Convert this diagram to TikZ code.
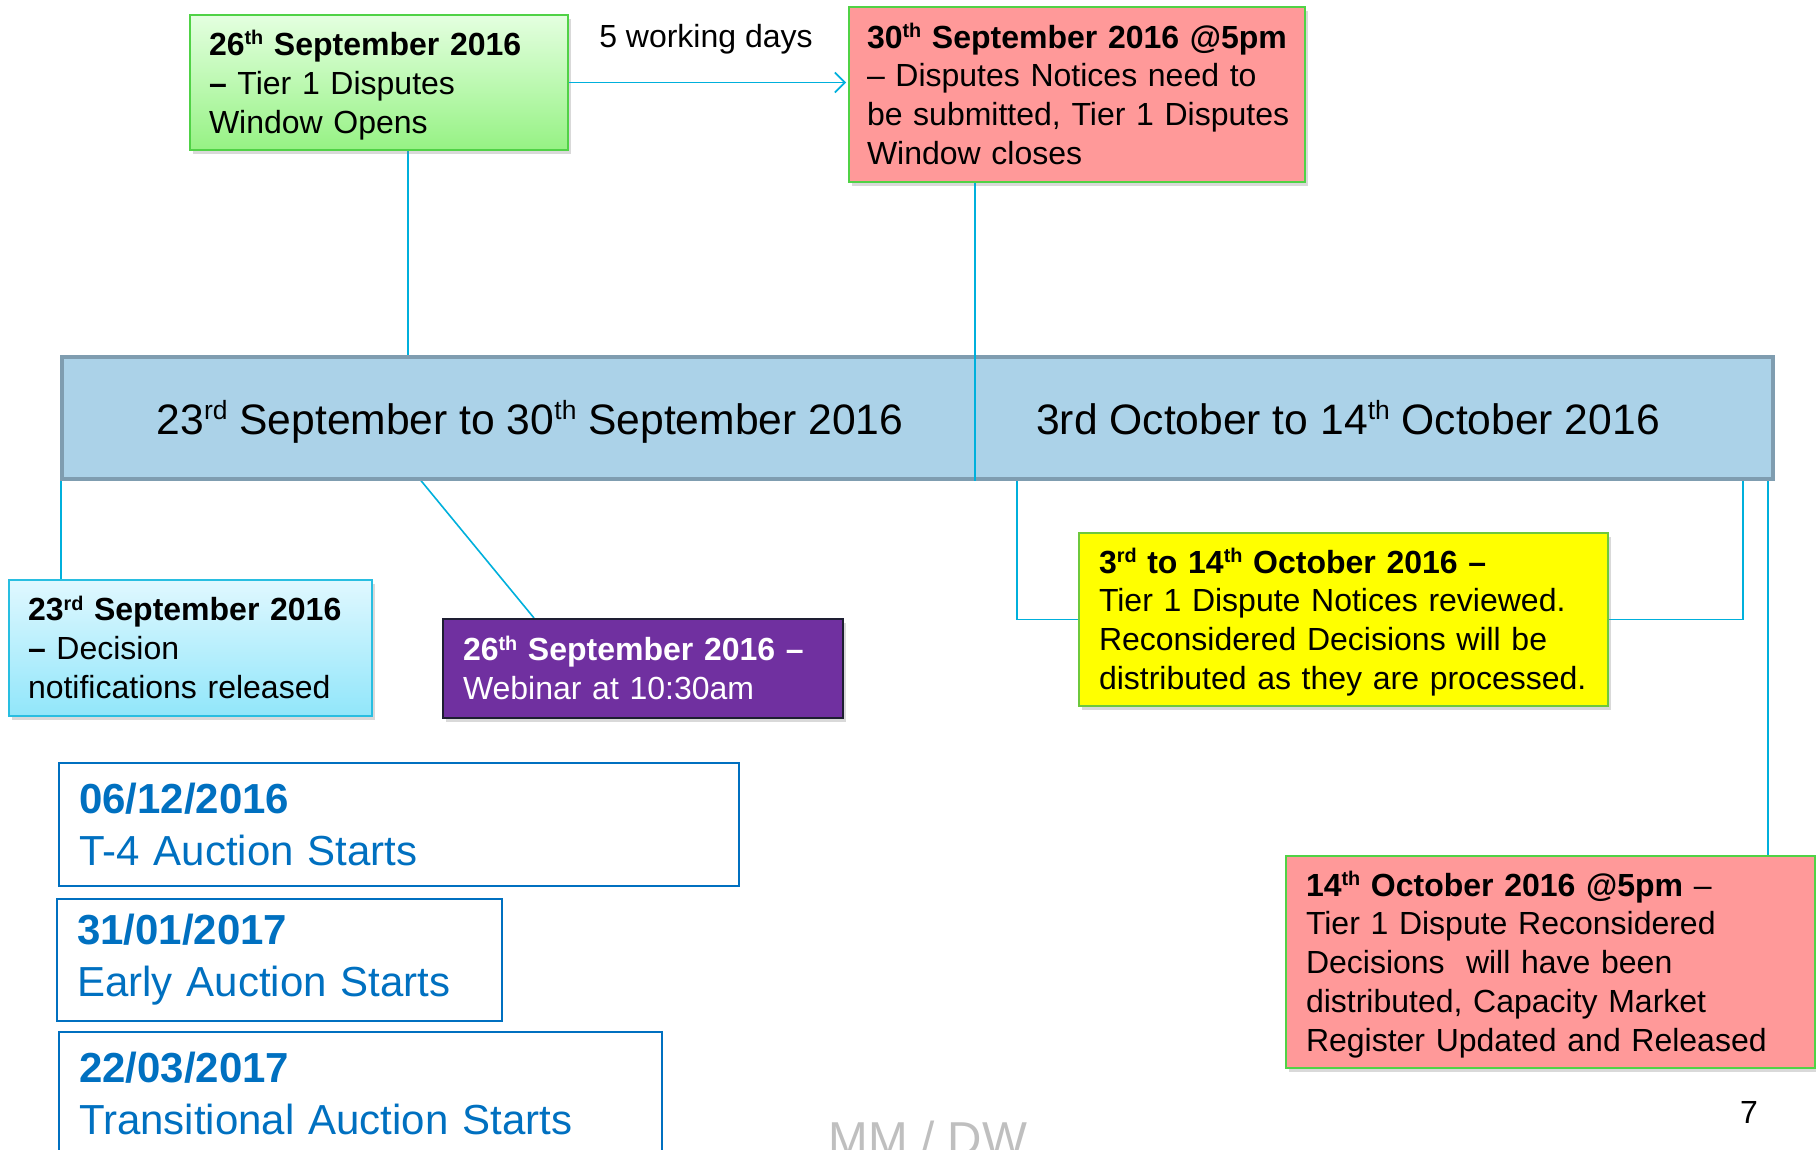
\documentclass[tikz,border=0pt]{standalone}
\usepackage{fontspec}
\usepackage{graphicx}
\setmainfont{Liberation Sans}
\usetikzlibrary{calc,positioning,shadows,arrows.meta}

\definecolor{conncyan}{RGB}{0,176,220}
\definecolor{barfill}{RGB}{171,210,232}
\definecolor{barline}{RGB}{127,157,176}
\definecolor{boxgreen}{RGB}{80,210,70}
\definecolor{greentop}{RGB}{228,255,224}
\definecolor{greenbot}{RGB}{150,242,132}
\definecolor{redfill}{RGB}{255,153,153}
\definecolor{cyantop}{RGB}{224,248,255}
\definecolor{cyanbot}{RGB}{145,230,250}
\definecolor{cyanline}{RGB}{40,190,225}
\definecolor{webpurple}{RGB}{112,48,160}
\definecolor{webline}{RGB}{30,30,50}
\definecolor{revyellow}{RGB}{255,255,0}
\definecolor{revline}{RGB}{110,200,60}
\definecolor{auctionblue}{RGB}{0,112,192}
\definecolor{mmgray}{RGB}{191,191,191}

\pgfdeclarelayer{background}
\pgfsetlayers{background,main}

% lines of a box, kept from breaking
\newcommand{\evlines}[1]{\raisebox{-2pt}[\height][\depth]{\begin{tabular}{@{}l@{}}#1\end{tabular}}}
% small raised ordinal
\newcommand{\ord}[1]{\raisebox{0.33em}{\scalebox{0.62}{#1}}}

\tikzset{
  evbox/.style={draw, line width=1pt, inner xsep=9.5pt, inner ysep=0pt, align=left,
    anchor=north west, font=\fontsize{16}{19.4}\selectfont,
    drop shadow={opacity=0.3, shadow xshift=1.5pt, shadow yshift=-2pt}},
  openbox/.style={evbox, draw=boxgreen, top color=greentop, bottom color=greenbot},
  closebox/.style={evbox, draw=boxgreen, fill=redfill},
  decibox/.style={evbox, draw=cyanline, top color=cyantop, bottom color=cyanbot},
  webbox/.style={evbox, draw=webline, fill=webpurple, text=white},
  revbox/.style={evbox, draw=revline, fill=revyellow},
  auctionbox/.style={draw=auctionblue, line width=1pt, inner xsep=10pt, inner ysep=0pt,
    align=left, anchor=north west, text=auctionblue, font=\fontsize{21}{26}\selectfont},
  barbox/.style={draw=barline, line width=2.2pt, fill=barfill, anchor=north west,
    inner sep=0pt, minimum width=855.5pt, minimum height=61pt},
  bartext/.style={font=\fontsize{21.3}{25}\selectfont, anchor=base},
  plain/.style={font=\fontsize{16}{19.4}\selectfont},
  conn/.style={draw=conncyan, line width=0.8pt}
}

\begin{document}
\begin{tikzpicture}[x=0.5pt,y=-0.5pt]
  \useasboundingbox (0,0) rectangle (1816,1150);

  % window open / close
  \node[openbox, minimum width=189pt, minimum height=67.5pt, text width=170pt](tieropen) at (189,14)
    {\evlines{\textbf{26\ord{th} September 2016}\\\textbf{--} Tier 1 Disputes\\Window Opens}};
  \node[closebox, right=139.5pt of tieropen.north east, anchor=north west, yshift=4pt,
    inner xsep=9pt, minimum width=228pt, minimum height=87.5pt, text width=210pt](tierclose)
    {\evlines{\textbf{30\ord{th} September 2016 @5pm}\\-- Disputes Notices need to\\be submitted, Tier 1 Disputes\\Window closes}};
  \node[plain, anchor=base](workdays) at (706,48){5 working days};

  % timeline bar
  \node[barbox](bar) at (60,355){};
  \node[bartext](septtext) at (530,434){23\ord{rd} September to 30\ord{th} September 2016};
  \node[bartext](octtext) at (1348,434){3rd October to 14\ord{th} October 2016};

  % events below the bar
  \node[decibox, minimum width=181.5pt, minimum height=68pt, text width=162.5pt](decision) at (8,579)
    {\evlines{\textbf{23\ord{rd} September 2016}\\\textbf{--} Decision\\notifications released}};
  \node[webbox, inner xsep=10pt, minimum width=200pt, minimum height=49.5pt, text width=180pt](webinar) at (442,618)
    {\evlines{\textbf{26\ord{th} September 2016 --}\\Webinar at 10:30am}};
  \node[revbox, inner xsep=10pt, minimum width=264.5pt, minimum height=86.5pt, text width=244.5pt](review) at (1078,532)
    {\evlines{\textbf{3\ord{rd} to 14\ord{th} October 2016 --}\\Tier 1 Dispute Notices reviewed.\\Reconsidered Decisions will be\\distributed as they are processed.}};
  \node[closebox, inner xsep=10pt, minimum width=264.5pt, minimum height=106pt, text width=244.5pt](register) at (1285,855)
    {\evlines{\textbf{14\ord{th} October 2016 @5pm} --\\Tier 1 Dispute Reconsidered\\Decisions~ will have been\\distributed, Capacity Market\\Register Updated and Released}};

  % auctions
  \node[auctionbox, minimum width=340pt, minimum height=61.5pt, text width=320pt](tfour) at (58,762)
    {\textbf{06/12/2016}\\T-4 Auction Starts};
  \node[auctionbox, below=5.25pt of tfour.south west, anchor=north west, xshift=-1pt,
    minimum width=222.5pt, minimum height=61pt, text width=202.5pt](early)
    {\textbf{31/01/2017}\\Early Auction Starts};
  \node[auctionbox, below=4.8pt of early.south west, anchor=north west, xshift=1pt,
    minimum width=301.5pt, minimum height=61.5pt, text width=281.5pt](transitional)
    {\textbf{22/03/2017}\\Transitional Auction Starts};

  \node[plain](pagenum) at (1749,1112){7};
  \node[font=\fontsize{23.8}{28}\selectfont, text=mmgray, anchor=base](initials) at (928,1155){MM / DW};

  % connectors
  \coordinate (opentick) at (408,0);
  \coordinate (closetick) at (975,0);
  \coordinate (decitick) at (61,0);
  \coordinate (webfrom) at (418,477);
  \coordinate (bracketl) at (1017,0);
  \coordinate (bracketr) at (1743,0);
  \coordinate (regtick) at (1768,0);
  \draw[conn, -{Straight Barb[length=5pt,width=10pt]}, shorten >=1pt] (tieropen.east) -- (tieropen.east -| tierclose.west);
  \draw[conn] (closetick |- tierclose.south) -- (closetick |- bar.south);
  \begin{pgfonlayer}{background}
    \draw[conn] (opentick |- tieropen.south) -- (opentick |- bar.north);
    \draw[conn] (decitick |- bar.south) -- (decitick |- decision.north);
    \draw[conn] (webfrom) -- ($(webinar.north west)+(46pt,0)$);
    \draw[conn] (bracketl |- bar.south) |- (review.west) (review.east) -| (bracketr |- bar.south);
    \draw[conn] (regtick |- bar.east) -- (regtick |- register.north);
  \end{pgfonlayer}
\end{tikzpicture}
\end{document}
